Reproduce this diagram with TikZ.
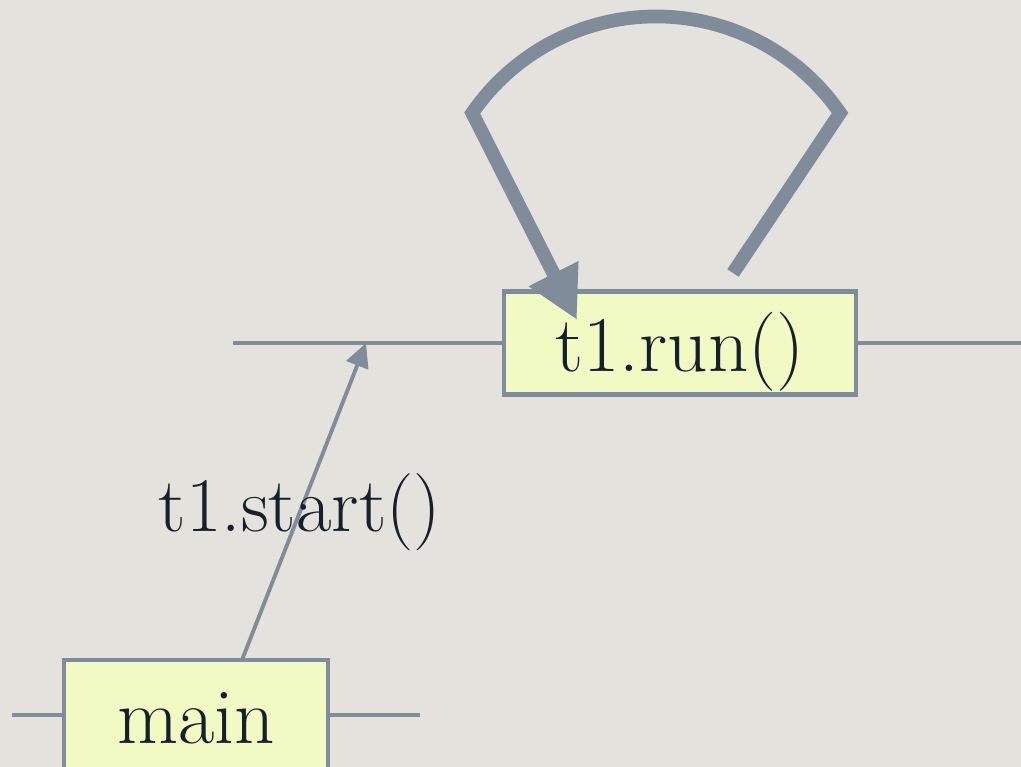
\documentclass[tikz,border=0pt]{standalone}
\usepackage{xcolor}
\usepackage{tikz}
\usetikzlibrary{arrows.meta, positioning}
\definecolor{myslate}{RGB}{128,140,154}
\definecolor{mydark}{RGB}{22,32,42}
\definecolor{hdryellow}{RGB}{242,250,196}
\definecolor{bggray}{RGB}{228,226,220}
\tikzset{
  callbox/.style={rectangle, draw=myslate, fill=hdryellow, line width=2.6pt,
    minimum height=2.06cm, inner sep=0pt, text=mydark,
    text height=43pt, text depth=11pt,
    font=\fontsize{45}{54}\selectfont},
  lbl/.style={text=mydark, font=\fontsize{44}{52}\selectfont},
  lifeline/.style={line width=2.2pt, color=myslate},
  callarrow/.style={-{Triangle[length=0.48cm, width=0.46cm]}, line width=2.2pt, color=myslate},
  looparrow/.style={-{Triangle[length=1.04cm, width=1.04cm]}, line width=7.8pt, color=myslate}
}
\begin{document}
\begin{tikzpicture}[x=0.02cm, y=0.02cm]
  % background and frame
  \fill[bggray] (0,0) rectangle (1021,767);
  \clip (0,0) rectangle (1021,767);

  % Thread boxes
  \node[callbox, minimum width=7.04cm] (run) at (680,424) {t1.run()};
  \node[callbox, minimum width=5.28cm, minimum height=2.2cm] (main) at (196,52) {main};

  % Lifelines
  \coordinate (runL) at (233,424);
  \coordinate (runR) at (1021,424);
  \coordinate (mainL) at (12,52);
  \coordinate (mainR) at (420,52);
  \draw[lifeline] (runL) -- (run.west);
  \draw[lifeline] (run.east) -- (runR);
  \draw[lifeline] (mainL) -- (main.west);
  \draw[lifeline] (main.east) -- (mainR);

  % start call
  \coordinate (startfrom) at (242,107);
  \coordinate (startto) at (366,424);
  \draw[callarrow] (startfrom) -- (startto);
  \node[lbl] (startlbl) at (300,255) {t1.start()};

  % run loop
  \coordinate (loopout) at (733,494);
  \coordinate (loopR) at (840,654);
  \coordinate (loopin) at (577,447);
  \draw[looparrow] (loopout) -- (loopR)
    arc[start angle=34.6, end angle=145.4, radius=223.4] -- (loopin);
\end{tikzpicture}
\end{document}
